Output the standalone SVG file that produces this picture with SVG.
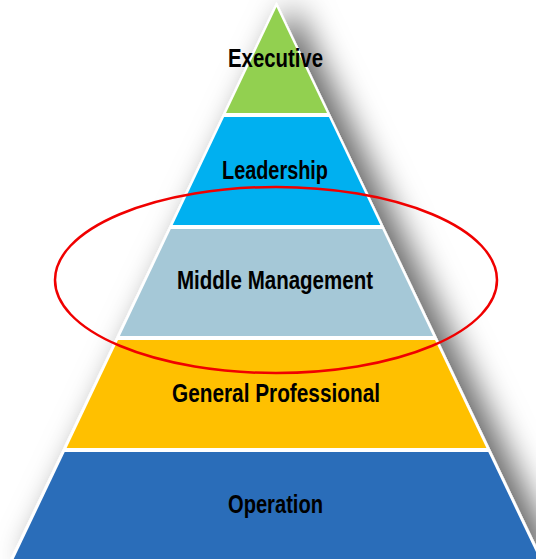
<svg xmlns="http://www.w3.org/2000/svg" width="536" height="559" viewBox="0 0 536 559">
  <defs>
    <filter id="shadow" x="-30%" y="-20%" width="160%" height="140%">
      <feGaussianBlur in="SourceAlpha" stdDeviation="16" result="b"/>
      <feOffset in="b" dx="16" dy="2" result="o"/>
      <feFlood flood-color="#000" flood-opacity="0.6"/>
      <feComposite in2="o" operator="in" result="s"/>
      <feMerge>
        <feMergeNode in="s"/>
        <feMergeNode in="SourceGraphic"/>
      </feMerge>
    </filter>
    <style>
      .lbl { font-family: "Liberation Sans Narrow", "Arial Narrow", "Liberation Sans", Arial, sans-serif; font-weight: bold; font-size: 26px; fill: #000; text-anchor: middle; }
    </style>
  </defs>
  <rect width="536" height="559" fill="#fff"/>
  <g id="pyramid-base">
    <polygon points="276.5,2 9,562 544,562" fill="#fff" filter="url(#shadow)"/>
  </g>
  <g id="executive">
    <polygon points="276.5,7 226,113 327,113" fill="#92D050"/>
    <text class="lbl" x="275.5" y="67" textLength="95" lengthAdjust="spacingAndGlyphs">Executive</text>
  </g>
  <g id="leadership">
    <polygon points="224.1,117 328.9,117 380.3,225 172.7,225" fill="#00B0F0"/>
    <text class="lbl" x="275" y="179" textLength="106" lengthAdjust="spacingAndGlyphs">Leadership</text>
  </g>
  <g id="middle-management">
    <polygon points="170.8,229 382.2,229 433.1,336 119.9,336" fill="#A5C8D7"/>
    <text class="lbl" x="275" y="289" textLength="196" lengthAdjust="spacingAndGlyphs">Middle Management</text>
  </g>
  <g id="general-professional">
    <polygon points="118,340 435,340 486.4,448 66.6,448" fill="#FFC000"/>
    <text class="lbl" x="276" y="402" textLength="208" lengthAdjust="spacingAndGlyphs">General Professional</text>
  </g>
  <g id="operation">
    <polygon points="64.7,452 488.3,452 539.3,559 13.7,559" fill="#2A6DB9"/>
    <text class="lbl" x="275.5" y="513" textLength="95" lengthAdjust="spacingAndGlyphs">Operation</text>
  </g>
  <g id="highlight">
    <ellipse cx="276" cy="280" rx="221" ry="93" fill="none" stroke="#F00000" stroke-width="2.5"/>
  </g>
</svg>
